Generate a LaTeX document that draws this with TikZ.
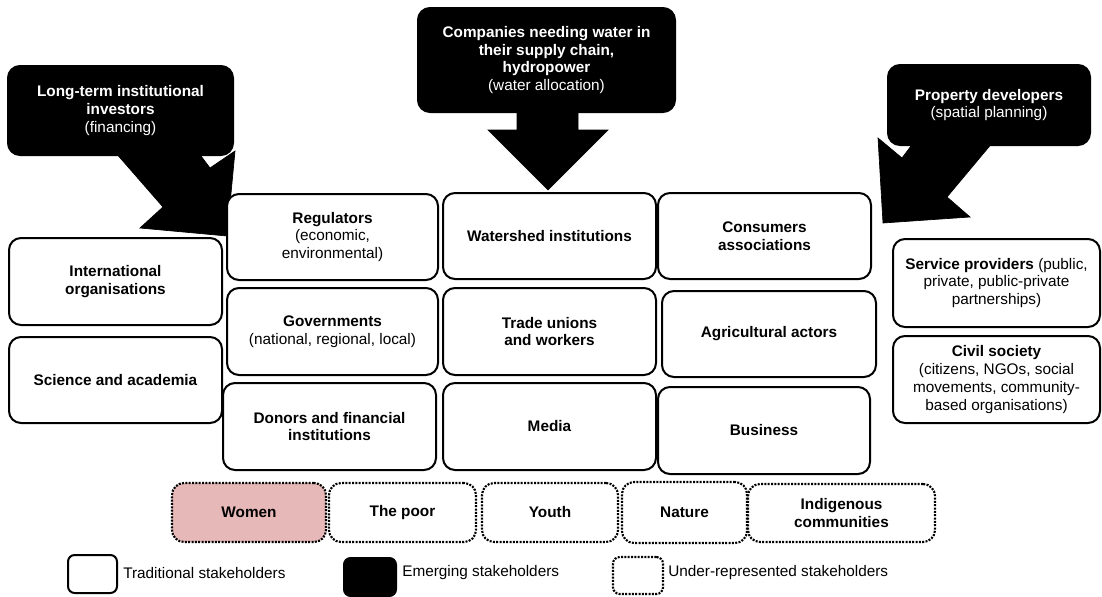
\documentclass[tikz,border=0pt]{standalone}
\usepackage{fontspec}
\setmainfont{Liberation Sans}
\definecolor{womenpink}{HTML}{E6B8B7}
\tikzset{
  sz/.style 2 args={minimum width=0.75pt*#1, minimum height=0.75pt*#2},
  base/.style={rounded corners=9pt, line width=1.5pt, align=center, inner sep=2pt,
    font=\fontsize{11.5}{13.3}\selectfont},
  trad/.style={base, draw=black, fill=white},
  emer/.style={base, draw=black, fill=black, text=white},
  under/.style={base, draw=black, line width=1.6pt, dash pattern=on 1.5pt off 1pt},
  blockarrow/.style={fill=black, draw=black, line width=0.5pt, line join=miter},
  legtext/.style={anchor=west, inner sep=0pt, font=\fontsize{11.5}{13.3}\selectfont},
}
\begin{document}
\begin{tikzpicture}[x=0.75pt, y=-0.75pt]
\useasboundingbox (0,0) rectangle (1102,596);

% emerging stakeholders (callouts)
\node[emer, sz={225}{89}] (lti) at (120.5,110.5)
  {\textbf{Long-term institutional}\\\textbf{investors}\\(financing)};
\node[emer, sz={257}{104}] (comp) at (546.5,60)
  {\textbf{Companies needing water in}\\\textbf{their supply chain,}\\\textbf{hydropower}\\(water allocation)};
\node[emer, sz={202}{80}] (prop) at (989,105)
  {\textbf{Property developers}\\(spatial planning)};

% block arrows
\fill[blockarrow] (115,152) -- (163,207) -- (140,228) -- (227,236) -- (235,151) -- (210,168) -- (198,152) -- cycle;
\fill[blockarrow] (517,110) -- (517,130) -- (488,130) -- (548,190) -- (608,130) -- (578,130) -- (578,110) -- cycle;
\fill[blockarrow] (993,142) -- (947,197) -- (970,217) -- (883,223) -- (878,138) -- (902,158) -- (914,142) -- cycle;

% traditional stakeholders
\node[trad, sz={213}{87}] (intl) at (115.5,281.5) {\textbf{International}\\\textbf{organisations}};
\node[trad, sz={213}{86}] (sci) at (115.5,380) {\textbf{Science and academia}};
\node[trad, sz={211}{86}] (reg) at (332.5,237) {\textbf{Regulators}\\(economic,\\environmental)};
\node[trad, sz={211}{87}] (gov) at (332.5,331.5) {\textbf{Governments}\\(national, regional, local)};
\node[trad, sz={213}{87}] (don) at (329.5,426.5) {\textbf{Donors and financial}\\\textbf{institutions}};
\node[trad, sz={213}{86}] (wat) at (549.5,236) {\textbf{Watershed institutions}};
\node[trad, sz={213}{87}] (tra) at (549.5,331.5) {\textbf{Trade unions}\\\textbf{and workers}};
\node[trad, sz={213}{87}] (med) at (549.5,426.5) {\textbf{Media}};
\node[trad, sz={213}{86}] (con) at (764.5,236) {\textbf{Consumers}\\\textbf{associations}};
\node[trad, sz={214}{86}] (agr) at (769,334) {\textbf{Agricultural actors}};
\node[trad, sz={212}{87}] (bus) at (764,430.5) {\textbf{Business}};
\node[trad, sz={207}{88}] (ser) at (996.5,283) {\textbf{Service providers} (public,\\private, public-private\\partnerships)};
\node[trad, sz={207}{87}] (civ) at (996.5,379.5) {\textbf{Civil society}\\(citizens, NGOs, social\\movements, community-\\based organisations)};

% under-represented stakeholders
\node[under, fill=womenpink, sz={154}{59}] (wom) at (249,512.5) {\textbf{Women}};
\node[under, sz={147}{59}] (poor) at (402.5,512.5) {\textbf{The poor}\vphantom{W}};
\node[under, sz={136}{59}] (you) at (550,512.5) {\textbf{Youth}};
\node[under, sz={125}{61}] (nat) at (684.5,512.5) {\textbf{Nature}};
\node[under, sz={187}{58}] (ind) at (841.5,513) {\textbf{Indigenous}\\\textbf{communities}};

% legend
\node[trad, rounded corners=5pt, sz={49}{38}, inner sep=0pt] (lg1) at (92.5,574) {};
\node[legtext] (lt1) at (123,573) {Traditional stakeholders};
\node[emer, rounded corners=5pt, sz={52}{38}, inner sep=0pt] (lg2) at (370,577) {};
\node[legtext] (lt2) at (402,573) {Emerging stakeholders};
\node[under, rounded corners=5pt, sz={50}{37}, inner sep=0pt] (lg3) at (638,575.5) {};
\node[legtext] (lt3) at (668,573) {Under-represented stakeholders};
\end{tikzpicture}
\end{document}
